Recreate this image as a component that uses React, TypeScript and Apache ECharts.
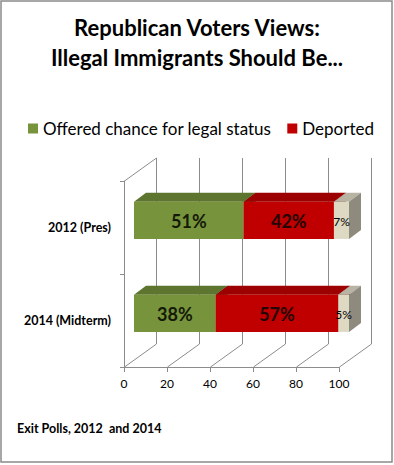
import React, { useEffect, useRef } from "react";
import * as echarts from "echarts";

const categories = ["2012 (Pres)", "2014 (Midterm)"];
const legendNames = ["Offered chance for legal status", "Deported"];
const offered = [51, 38];
const deported = [42, 57];
const other = [7, 5];
const xTicks = [0, 20, 40, 60, 80, 100];

const titleText = "Republican Voters Views:\nIllegal Immigrants Should Be...";
const footerText = "Exit Polls, 2012  and 2014";

const FONT = "Lato, 'Noto Sans', sans-serif";
const FRONT_OFF = [10, -7.2];
const DEPTH = [12, -9];
const WALL = [32, -23];

function barSeries(
  name: string,
  values: number[],
  bases: number[],
  colors: { front: string; top: string; side: string },
  label: { size: number; weight: string; color: string },
  z: number
) {
  return {
    type: "custom",
    name,
    z,
    clip: false,
    itemStyle: { color: colors.front },
    encode: { x: [0, 1], y: 2 },
    data: values.map((v, i) => [bases[i], bases[i] + v, i, v]),
    renderItem: (params: any, api: any) => {
      const start = api.value(0);
      const end = api.value(1);
      const cat = api.value(2);
      const val = api.value(3);
      const p0 = api.coord([start, cat]);
      const p1 = api.coord([end, cat]);
      const band = api.size([0, 1])[1];
      const h = band * 0.4;
      const x0 = p0[0] + FRONT_OFF[0];
      const x1 = p1[0] + FRONT_OFF[0];
      const yT = p0[1] + FRONT_OFF[1] - h / 2;
      const yB = yT + h;
      const [dx, dy] = DEPTH;
      return {
        type: "group",
        children: [
          {
            type: "polygon",
            shape: { points: [[x0, yT], [x1, yT], [x1 + dx, yT + dy], [x0 + dx, yT + dy]] },
            style: { fill: colors.top },
          },
          {
            type: "polygon",
            shape: { points: [[x1, yT], [x1 + dx, yT + dy], [x1 + dx, yB + dy], [x1, yB]] },
            style: { fill: colors.side },
          },
          {
            type: "rect",
            shape: { x: x0, y: yT, width: x1 - x0, height: h },
            style: { fill: colors.front },
          },
          {
            type: "text",
            style: {
              text: val + "%",
              x: (x0 + x1) / 2,
              y: (yT + yB) / 2 + 1,
              align: "center",
              verticalAlign: "middle",
              fontFamily: FONT,
              fontSize: label.size,
              fontWeight: label.weight,
              fill: label.color,
            },
          },
        ],
      };
    },
  };
}

export default function App() {
  const ref = useRef<HTMLDivElement>(null);
  useEffect(() => {
    if (!ref.current) return;
    const chart = echarts.init(ref.current, undefined, { renderer: "svg" });
    const base2 = offered.map((v, i) => v + deported[i]);
    const lineColor = "#8c8c8c";
    const option: any = {
      animation: false,
      backgroundColor: "#ffffff",
      title: {
        text: titleText,
        left: "center",
        top: 7,
        textStyle: {
          fontFamily: FONT,
          fontSize: 22,
          fontWeight: "bold",
          color: "#000",
          lineHeight: 30,
        },
      },
      legend: {
        data: legendNames,
        left: 23,
        top: 115,
        icon: "rect",
        itemWidth: 10,
        itemHeight: 10,
        itemGap: 16,
        textStyle: { fontFamily: FONT, fontSize: 17, color: "#000" },
      },
      grid: { left: 124, top: 181, width: 215, height: 186, containLabel: false },
      xAxis: {
        type: "value",
        min: 0,
        max: 100,
        interval: 20,
        axisLine: { show: true, lineStyle: { color: lineColor } },
        axisTick: { show: true, length: 5, lineStyle: { color: lineColor } },
        axisLabel: { fontFamily: FONT, fontSize: 12, color: "#000", margin: 10 },
        splitLine: { show: false },
      },
      yAxis: {
        type: "category",
        data: categories,
        inverse: true,
        axisLine: { show: true, lineStyle: { color: lineColor } },
        axisTick: { show: true, length: 4, lineStyle: { color: lineColor } },
        axisLabel: { fontFamily: FONT, fontSize: 12.5, fontWeight: "bold", color: "#000", margin: 13 },
        splitLine: { show: false },
      },
      graphic: [
        {
          type: "rect",
          shape: { x: 1, y: 1, width: 391, height: 461 },
          style: { fill: "none", stroke: "#8a8a8a", lineWidth: 1.5 },
          silent: true,
        },
        {
          type: "text",
          left: 17,
          top: 422,
          style: {
            text: footerText,
            fontFamily: FONT,
            fontSize: 12.5,
            fontWeight: "bold",
            fill: "#000",
          },
        },
      ],
      series: [
        {
          type: "custom",
          name: "walls",
          silent: true,
          z: 1,
          clip: false,
          encode: { x: 0, y: 1 },
          data: xTicks.map((v) => [v, 0]),
          renderItem: (params: any, api: any) => {
            const v = api.value(0);
            const cs = params.coordSys;
            const px = Math.round(api.coord([v, 0])[0]) + 0.5;
            const top = cs.y;
            const bottom = cs.y + cs.height;
            const st = { stroke: lineColor, lineWidth: 1 };
            const children: any[] = [
              {
                type: "line",
                shape: { x1: px + WALL[0], y1: top + WALL[1], x2: px + WALL[0], y2: bottom + WALL[1] },
                style: st,
              },
              {
                type: "line",
                shape: { x1: px, y1: bottom, x2: px + WALL[0], y2: bottom + WALL[1] },
                style: st,
              },
            ];
            if (v === xTicks[0]) {
              children.push({
                type: "line",
                shape: { x1: px, y1: top, x2: px + WALL[0], y2: top + WALL[1] },
                style: st,
              });
            }
            return { type: "group", children };
          },
        },
        barSeries(
          legendNames[0],
          offered,
          [0, 0],
          { front: "#77933C", top: "#5E7530", side: "#4F6228" },
          { size: 18, weight: "bold", color: "#141a08" },
          3
        ),
        barSeries(
          legendNames[1],
          deported,
          offered,
          { front: "#C00000", top: "#9C0000", side: "#800000" },
          { size: 18, weight: "bold", color: "#240404" },
          4
        ),
        barSeries(
          "Other",
          other,
          base2,
          { front: "#DDD9C3", top: "#B8B4A3", side: "#8E8B7E" },
          { size: 12, weight: "normal", color: "#000" },
          5
        ),
      ],
    };
    chart.setOption(option);
    return () => chart.dispose();
  }, []);
  return (
    <div
      ref={ref}
      style={{ position: "absolute", left: 0, top: 0, width: 394, height: 465 }}
    />
  );
}
